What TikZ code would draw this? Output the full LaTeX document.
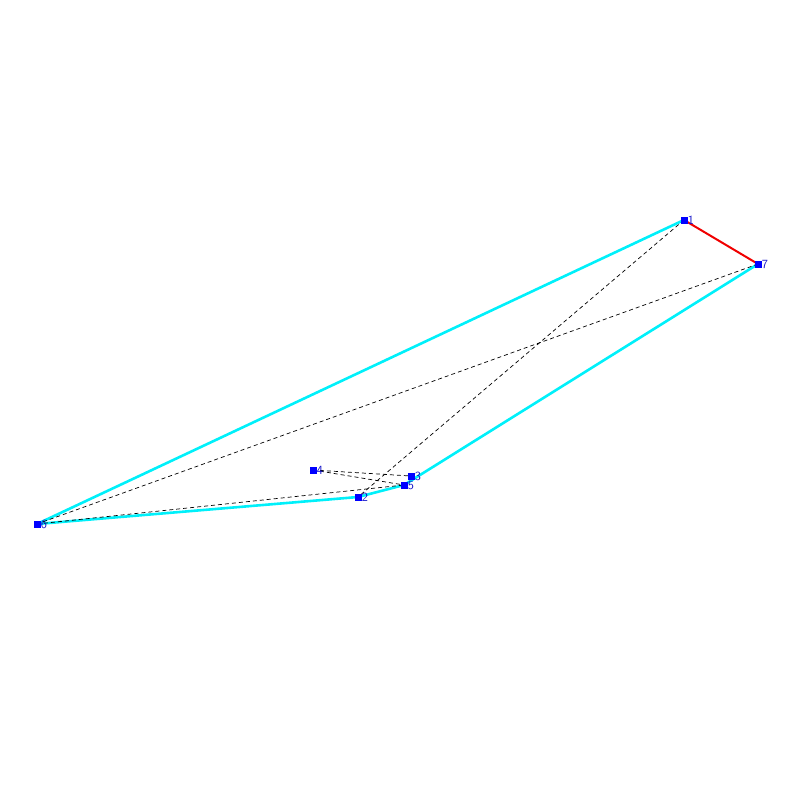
\documentclass[tikz,border=0pt]{standalone}
\usepackage{tikz}
\usetikzlibrary{positioning, backgrounds}
\definecolor{vtxblue}{RGB}{0,0,255}
\definecolor{lblblue}{RGB}{20,20,200}
\definecolor{hullcyan}{RGB}{0,240,250}
\definecolor{cutred}{RGB}{240,0,0}
\tikzstyle{vtx} = [
    rectangle,
    minimum size=7pt,
    inner sep=0pt,
    fill=vtxblue,
    label={[lbl]right:#1}
]
\tikzstyle{lbl} = [
    inner sep=0pt,
    xshift=0pt,
    yshift=-0.5pt,
    text=lblblue,
    font=\fontsize{12.5}{12.5}\selectfont\sffamily
]
\tikzstyle{hull} = [
    line width=2.6pt,
    hullcyan
]
\tikzstyle{cut} = [
    line width=2pt,
    cutred
]
\tikzstyle{chord} = [
    line width=0.7pt,
    black,
    dash pattern=on 4pt off 3pt
]

\begin{document}
\begin{tikzpicture}[x=1pt, y=-1pt]
    \useasboundingbox (0,0) rectangle (800,800);

    % Nodes
    \node (v1) [vtx=1] at (684,220) {};
    \node (v2) [vtx=2] at (358,497) {};
    \node (v3) [vtx=3] at (411,476) {};
    \node (v4) [vtx=4] at (313,470) {};
    \node (v5) [vtx=5] at (404,485) {};
    \node (v6) [vtx=6] at (37,524) {};
    \node (v7) [vtx=7] at (758,264) {};

    \begin{scope}[on background layer]
    % Outline
    \draw [hull] (v1.center) -- (v6.center);
    \draw [hull] (v6.center) -- (v2.center);
    \draw [hull] (v2.center) -- (v5.center);
    \draw [hull] (v5.center) -- (v7.center);
    \draw [cut] (v1.center) -- (v7.center);

    % Dashed edges
    \draw [chord] (v1.center) -- (v2.center);
    \draw [chord] (v7.center) -- (v6.center);
    \draw [chord] (v6.center) -- (v5.center);
    \draw [chord] (v4.center) -- (v3.center);
    \draw [chord] (v4.center) -- (v5.center);
    \end{scope}

\end{tikzpicture}
\end{document}
